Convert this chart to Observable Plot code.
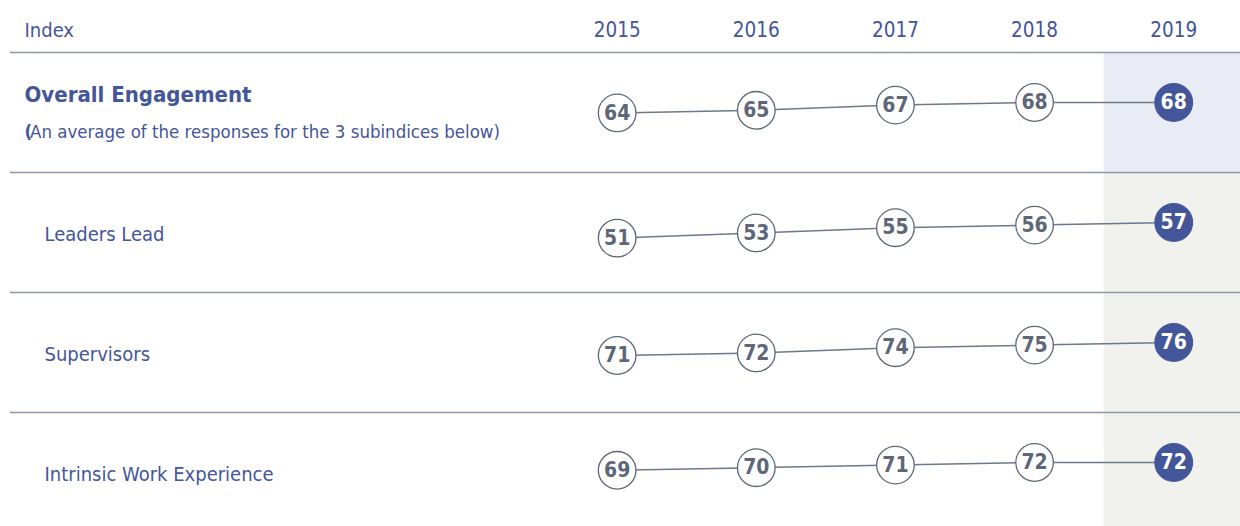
<!DOCTYPE html>
<html><head><meta charset="utf-8">
<script src="https://cdn.jsdelivr.net/npm/d3@7"></script>
<script src="https://cdn.jsdelivr.net/npm/@observablehq/plot@0.6"></script>
<style>
html,body{margin:0;padding:0;background:#fff;overflow:hidden;}
#chart svg{display:block;overflow:hidden;}
</style></head><body><div id="chart"></div>
<script>
// ---- data ----
const headerLabel = "Index";
const years = [2015, 2016, 2017, 2018, 2019];
const indexNames = ["Overall Engagement", "Leaders Lead", "Supervisors", "Intrinsic Work Experience"];
const overallNoteParen = "(";
const overallNote = "An average of the responses for the 3 subindices below)";
const overall = [64, 65, 67, 68, 68];
const leadersLead = [51, 53, 55, 56, 57];
const supervisors = [71, 72, 74, 75, 76];
const intrinsic = [69, 70, 71, 72, 72];

// ---- table built from the arrays ----
const series = [overall, leadersLead, supervisors, intrinsic];
const latestYear = years[years.length - 1];
const table = [];
indexNames.forEach((name, i) => {
  const vals = series[i];
  const latestVal = vals[vals.length - 1];
  years.forEach((yr, j) => table.push({
    row: name, year: yr, value: vals[j],
    delta: vals[j] - latestVal,          // change relative to latest year
    latest: yr === latestYear
  }));
});
const highlight = indexNames.map(r => ({row: r, year: latestYear}));

// ---- styles ----
const FONT = '"Liberation Sans Narrow","Arial Narrow","DejaVu Sans Condensed","Roboto Condensed",sans-serif';
const BLUE = "#44569a", GRAY = "#5d6778", LINE = "#6f788b", RULE = "#8d95a6";
const TINT_MAIN = "#e9ecf5", TINT_SUB = "#f1f2ed";
const yDomain = [-26.9, 19.2];
const topRow = indexNames[0];

const chart = Plot.plot({
  width: 1240, height: 526,
  marginTop: 52, marginBottom: -6, marginLeft: 10, marginRight: 0,
  style: {fontFamily: FONT, background: "#fff", color: BLUE, overflow: "hidden"},
  x: {domain: [2010.64, 2019.48], axis: null},
  y: {domain: yDomain, axis: null},
  fy: {domain: indexNames, padding: 0, axis: null},
  marks: [
    Plot.rect(highlight, {fy: "row", x1: d => d.year - 0.5, x2: d => d.year + 0.5,
      fill: d => d.row === topRow ? TINT_MAIN : TINT_SUB}),
    Plot.ruleY([yDomain[1]], {stroke: RULE, strokeWidth: 1.5}),
    // header
    Plot.text(years, {x: d => d, fy: () => topRow, text: d => String(d), frameAnchor: "top",
      lineAnchor: "bottom", dy: -16, fontSize: 20.5, fill: BLUE}),
    Plot.text([headerLabel], {fy: () => topRow, text: d => d, frameAnchor: "top-left", textAnchor: "start",
      lineAnchor: "bottom", dx: 14, dy: -16, fontSize: 20, fill: BLUE}),
    // row labels
    Plot.text([topRow], {fy: d => d, text: d => d, frameAnchor: "left", textAnchor: "start",
      dx: 14, dy: -17.3, fontSize: 22, fontWeight: "bold", fill: BLUE}),
    Plot.text([overallNoteParen], {fy: () => topRow, text: d => d, frameAnchor: "left", textAnchor: "start",
      dx: 14, dy: 20, fontSize: 18.5, fontWeight: "bold", fill: BLUE}),
    Plot.text([overallNote], {fy: () => topRow, text: d => d, frameAnchor: "left", textAnchor: "start",
      dx: 19.5, dy: 20, fontSize: 18.5, fill: BLUE}),
    Plot.text(indexNames.slice(1), {fy: d => d, text: d => d, frameAnchor: "left", textAnchor: "start",
      dx: 34, dy: 2, fontSize: 20, fill: BLUE}),
    // connecting lines
    Plot.line(table, {x: "year", y: "delta", fy: "row", z: "row", stroke: LINE, strokeWidth: 1.5}),
    // circles
    Plot.dot(table, {x: "year", y: "delta", fy: "row", r: 18.8,
      fill: d => d.latest ? BLUE : "#ffffff", stroke: d => d.latest ? BLUE : GRAY, strokeWidth: 1.3}),
    Plot.text(table, {x: "year", y: "delta", fy: "row", text: d => String(d.value),
      fill: d => d.latest ? "#ffffff" : GRAY, fontSize: 21, fontWeight: "bold"})
  ]
});
document.getElementById("chart").appendChild(chart);
</script></body></html>
